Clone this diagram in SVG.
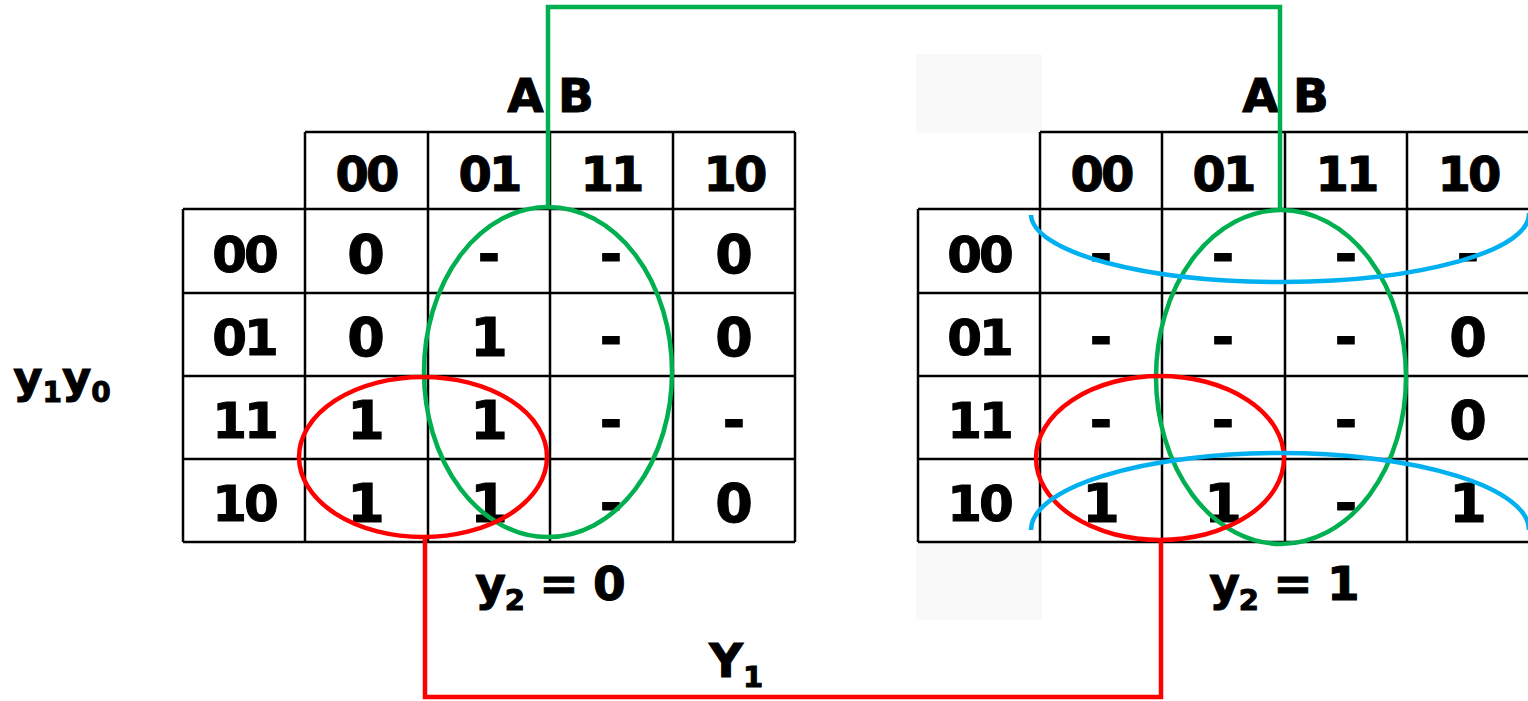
<svg xmlns="http://www.w3.org/2000/svg" width="1528" height="701" viewBox="0 0 1528 701">
<style>
.g{stroke:#000;stroke-width:2.5;fill:none}
.t{font-family:"DejaVu Sans","Verdana",sans-serif;font-weight:bold;fill:#000;stroke:#000;stroke-width:1;text-anchor:middle}
.h{font-size:48px;letter-spacing:-3px}
.c{font-size:54px}
.r{font-size:50px;letter-spacing:-3px}
.lbl{font-size:47px}
.grn{stroke:#00b050;stroke-width:4.5;fill:none}
.red{stroke:#ff0000;stroke-width:4.5;fill:none}
.blu{stroke:#00b0f0;stroke-width:4.5;fill:none}
.shade{fill:#f9f9f9}
</style>
<rect width="1528" height="701" fill="#fff"/>
<rect class="shade" x="916" y="54" width="126" height="79"/>
<rect class="shade" x="916" y="543" width="126" height="77"/>

<g id="kmap-left">
<path class="g" d="M305,132H795M183,209H795M183,293H795M183,376H795M183,459H795M183,542H795M183,209V542M305,132V542M428,132V542M550,132V542M673,132V542M795,132V542"/>
<g class="t h">
<text x="366" y="191">00</text><text x="489" y="191">01</text><text x="611" y="191">11</text><text x="734" y="191">10</text>
</g>
<g class="t r">
<text x="244" y="272">00</text><text x="244" y="355">01</text><text x="244" y="438">11</text><text x="244" y="521">10</text>
</g>
<g class="t c">
<text x="366" y="273">0</text><text x="489" y="273">-</text><text x="611" y="273">-</text><text x="734" y="273">0</text>
<text x="366" y="356">0</text><text x="489" y="356">1</text><text x="611" y="356">-</text><text x="734" y="356">0</text>
<text x="366" y="439">1</text><text x="489" y="439">1</text><text x="611" y="439">-</text><text x="734" y="439">-</text>
<text x="366" y="522">1</text><text x="489" y="522">1</text><text x="611" y="522">-</text><text x="734" y="522">0</text>
</g>
<text class="t lbl" x="550" y="112" letter-spacing="-1">A B</text>
<text class="t lbl" x="550" y="600" letter-spacing="-1">y<tspan font-size="29" dy="10">2</tspan><tspan dy="-10"> = 0</tspan></text>
</g>

<g id="kmap-right">
<path class="g" d="M1040,132H1530M918,209H1530M918,293H1530M918,376H1530M918,459H1530M918,542H1530M918,209V542M1040,132V542M1162,132V542M1285,132V542M1407,132V542"/>
<g class="t h">
<text x="1101" y="191">00</text><text x="1223" y="191">01</text><text x="1346" y="191">11</text><text x="1468" y="191">10</text>
</g>
<g class="t r">
<text x="979" y="272">00</text><text x="979" y="355">01</text><text x="979" y="438">11</text><text x="979" y="521">10</text>
</g>
<g class="t c">
<text x="1101" y="273">-</text><text x="1223" y="273">-</text><text x="1346" y="273">-</text><text x="1468" y="273">-</text>
<text x="1101" y="356">-</text><text x="1223" y="356">-</text><text x="1346" y="356">-</text><text x="1468" y="356">0</text>
<text x="1101" y="439">-</text><text x="1223" y="439">-</text><text x="1346" y="439">-</text><text x="1468" y="439">0</text>
<text x="1101" y="522">1</text><text x="1223" y="522">1</text><text x="1346" y="522">-</text><text x="1468" y="522">1</text>
</g>
<text class="t lbl" x="1285" y="112" letter-spacing="-1">A B</text>
<text class="t lbl" x="1284" y="600" letter-spacing="-1">y<tspan font-size="29" dy="10">2</tspan><tspan dy="-10"> = 1</tspan></text>
</g>

<g id="label-y1y0">
<text class="t" font-size="45" x="62" y="393">y<tspan font-size="28" dy="9">1</tspan><tspan dy="-9">y</tspan><tspan font-size="28" dy="9">0</tspan></text>
</g>
<g id="label-Y1">
<text class="t lbl" x="736" y="677">Y<tspan font-size="29" dy="10">1</tspan></text>
</g>

<g id="groupings">
<ellipse class="grn" cx="548" cy="372" rx="124" ry="165"/>
<ellipse class="red" cx="423" cy="457" rx="124" ry="80"/>
<ellipse class="grn" cx="1281" cy="377" rx="125" ry="167"/>
<ellipse class="red" cx="1160" cy="458" rx="124" ry="82"/>
<path class="blu" d="M1031,215A249,68 0 0 0 1529,213"/>
<path class="blu" d="M1031,530A249,77 0 0 1 1529,530"/>
</g>

<g id="connectors">
<path class="grn" d="M548,207V7H1280V211"/>
<path class="red" d="M425,537V697H1161V540"/>
</g>
</svg>
